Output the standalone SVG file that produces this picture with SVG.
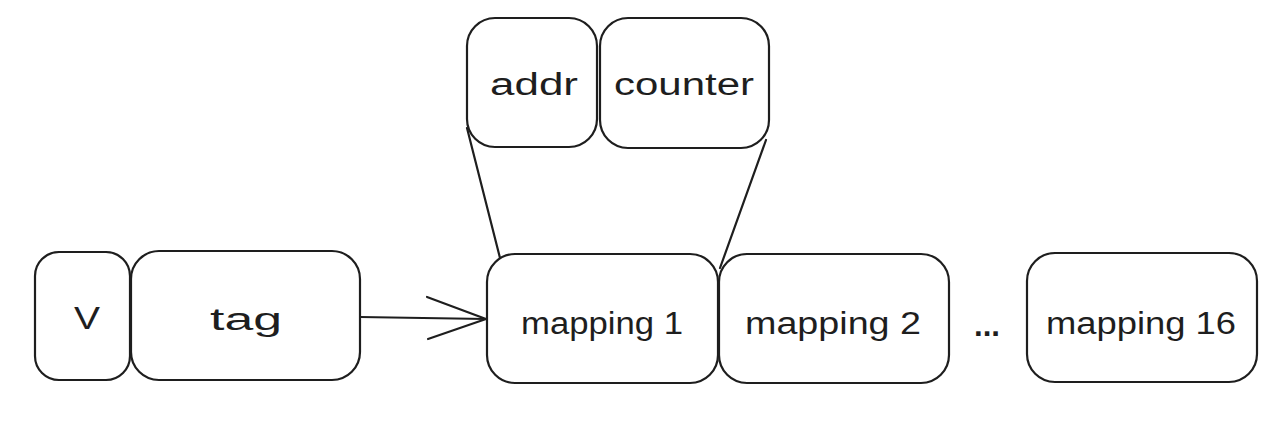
<svg xmlns="http://www.w3.org/2000/svg" width="1278" height="435" viewBox="0 0 1278 435">
<style>
.box{fill:#fff;stroke:#1e1e1e;stroke-width:2.2}
.lbl{font-family:"Liberation Sans",Arial,sans-serif;font-size:31px;fill:#1e1e1e;text-anchor:middle}
.ln{fill:none;stroke:#1e1e1e;stroke-width:2.2;stroke-linecap:round;stroke-linejoin:round}
</style>
<rect width="1278" height="435" fill="#fff"/>
<g id="connectors">
<path class="ln" d="M360 317 L486 319"/>
<path class="ln" d="M427 297 L486 319 L428 339"/>
<path class="ln" d="M467 128 L500 258"/>
<path class="ln" d="M766 140 L720 268"/>
</g>
<g id="node-v"><rect class="box" x="35" y="252" width="95" height="128" rx="24"/><text class="lbl" x="87" y="329" textLength="26" lengthAdjust="spacingAndGlyphs">V</text></g>
<g id="node-tag"><rect class="box" x="131" y="251" width="229" height="129" rx="28"/><text class="lbl" x="246" y="330" textLength="72" lengthAdjust="spacingAndGlyphs">tag</text></g>
<g id="node-addr"><rect class="box" x="467" y="18" width="130" height="129" rx="28"/><text class="lbl" x="534" y="95" textLength="88" lengthAdjust="spacingAndGlyphs">addr</text></g>
<g id="node-counter"><rect class="box" x="600" y="18" width="169" height="130" rx="28"/><text class="lbl" x="684" y="95" textLength="140" lengthAdjust="spacingAndGlyphs">counter</text></g>
<g id="node-mapping1"><rect class="box" x="487" y="254" width="231" height="129" rx="28"/><text class="lbl" x="602" y="334" textLength="162" lengthAdjust="spacingAndGlyphs">mapping 1</text></g>
<g id="node-mapping2"><rect class="box" x="719" y="254" width="230" height="129" rx="28"/><text class="lbl" x="833" y="334" textLength="176" lengthAdjust="spacingAndGlyphs">mapping 2</text></g>
<g id="node-ellipsis"><text class="lbl" x="987" y="336" font-weight="bold" textLength="26" lengthAdjust="spacingAndGlyphs">...</text></g>
<g id="node-mapping16"><rect class="box" x="1027" y="253" width="230" height="129" rx="28"/><text class="lbl" x="1141" y="334" textLength="190" lengthAdjust="spacingAndGlyphs">mapping 16</text></g>
</svg>
